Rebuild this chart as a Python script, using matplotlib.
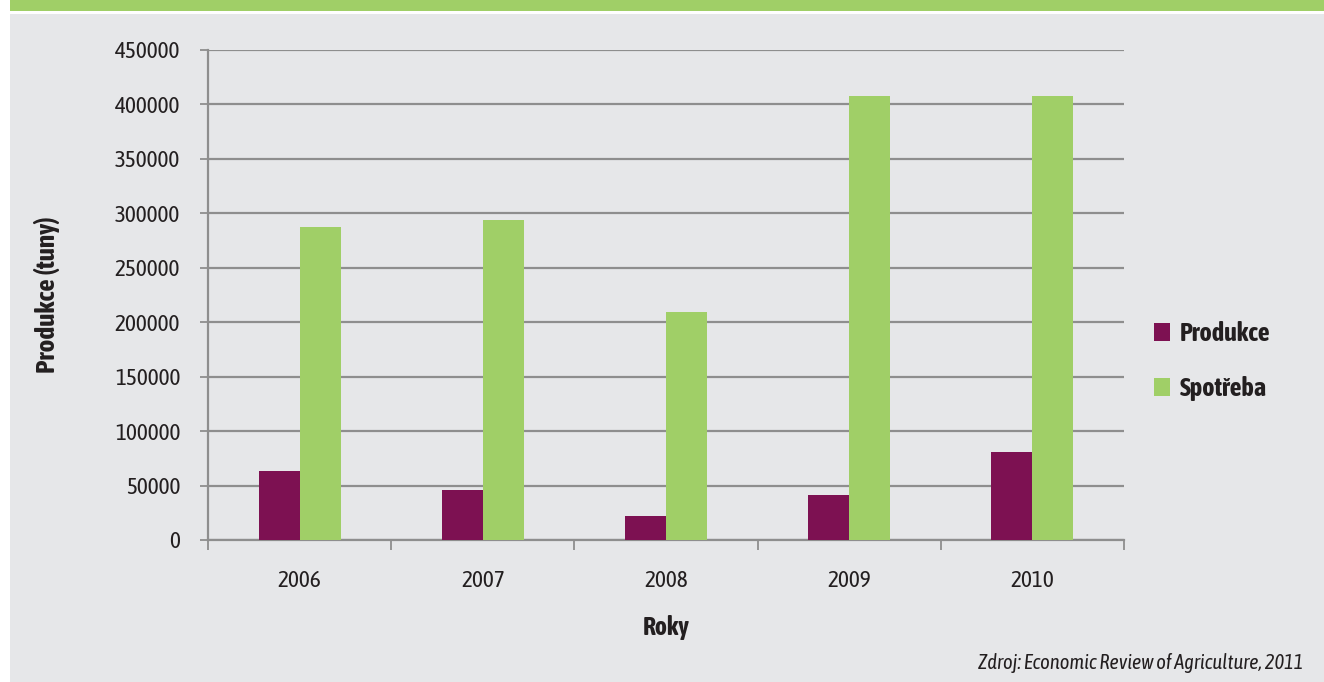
import numpy as np
import matplotlib
matplotlib.use("Agg")
import matplotlib.pyplot as plt
from matplotlib import font_manager
from matplotlib.patches import Rectangle, Patch

years = ["2006", "2007", "2008", "2009", "2010"]
produkce = [63000, 46000, 22000, 41000, 81000]
spotreba = [287000, 294000, 209000, 408000, 408000]
series_names = ["Produkce", "Spotřeba"]
y_ticks = [0, 50000, 100000, 150000, 200000, 250000, 300000, 350000, 400000, 450000]

PURPLE = "#7d1152"
GREEN = "#a0cf67"
PANEL = "#e6e7e9"
GRID = "#8e8e8e"
TEXT = "#231f20"

# condensed face close to the original's Myriad Condensed
names = {f.name for f in font_manager.fontManager.ttflist}
family = "Asap Condensed" if "Asap Condensed" in names else "DejaVu Sans"
plt.rcParams["font.family"] = [family, "DejaVu Sans"]

W, H = 1324, 682
fig = plt.figure(figsize=(W / 100, H / 100), dpi=100)
fig.patch.set_facecolor("white")

# header band and grey panel
fig.patches.append(Rectangle((10 / W, 1 - 11 / H), 1, 11 / H, transform=fig.transFigure,
                             facecolor=GREEN, edgecolor="none", zorder=-5))
fig.patches.append(Rectangle((10 / W, 0), 1, 1 - 14 / H, transform=fig.transFigure,
                             facecolor=PANEL, edgecolor="none", zorder=-5))

x0, x1, y0, y1 = 208, 1124, 540, 50
ax = fig.add_axes([x0 / W, 1 - y0 / H, (x1 - x0) / W, (y0 - y1) / H])
ax.set_facecolor("none")

x = np.arange(len(years))
bw = 0.224
ax.bar(x - bw / 2, produkce, bw, color=PURPLE, zorder=3)
ax.bar(x + bw / 2, spotreba, bw, color=GREEN, zorder=3)

ax.set_xlim(-0.5, len(years) - 0.5)
ax.set_ylim(0, 450000)
ax.set_yticks(y_ticks)
ax.set_yticklabels([str(v) for v in y_ticks])
ax.yaxis.grid(True, color=GRID, lw=1.6, zorder=1)
ax.set_axisbelow(True)

ax.set_xticks(x)
ax.set_xticklabels(years)
ax.set_xticks(np.arange(-0.5, len(years)), minor=True)
ax.tick_params(axis="x", which="major", length=0, pad=21.5, labelsize=16.8, labelcolor=TEXT)
ax.tick_params(axis="x", which="minor", length=7.5, width=1.3, color=GRID, direction="out")
ax.tick_params(axis="y", length=6, width=1.3, color=GRID, pad=14, labelsize=16.8, labelcolor=TEXT)

for s in ["top", "right"]:
    ax.spines[s].set_visible(False)
for s in ["left", "bottom"]:
    ax.spines[s].set_color(GRID)
    ax.spines[s].set_linewidth(1.6)

ax.set_xlabel("Roky", fontsize=18.5, fontweight="bold", color=TEXT, va="center")
ax.xaxis.set_label_coords(0.5, (540 - 627) / 490)
ax.set_ylabel("Produkce (tuny)", fontsize=19.5, fontweight="bold", color=TEXT, va="center")
ax.yaxis.set_label_coords((47 - 208) / 916, 0.5)

handles = [Patch(facecolor=PURPLE), Patch(facecolor=GREEN)]
fig.legend(handles, series_names, loc="center left", bbox_to_anchor=(1130 / W, 1 - 361 / H),
           frameon=False, handlelength=0.65, handleheight=0.65, handletextpad=0.35,
           labelspacing=1.15, prop={"size": 18.8, "weight": "bold"}, labelcolor=TEXT)

fig.text(1303 / W, 1 - 663 / H, "Zdroj: Economic Review of Agriculture, 2011",
         ha="right", va="center", fontsize=14.8, style="italic", color=TEXT)

fig.savefig("out.png", dpi=100)
